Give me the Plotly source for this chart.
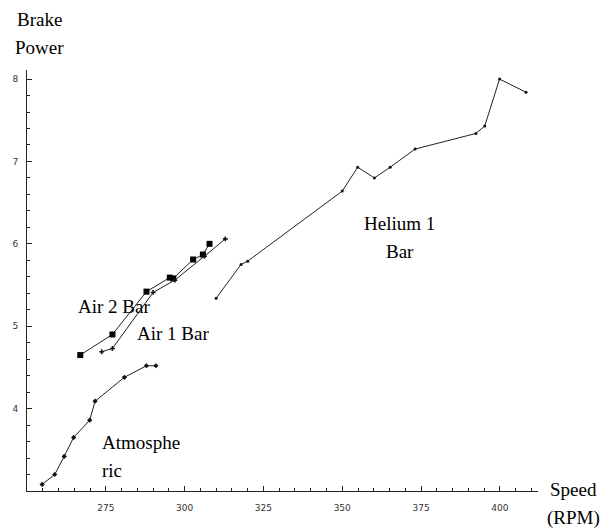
import plotly.graph_objects as go

# ---- data ----
atm_speed = [254.8, 258.8, 261.8, 264.8, 269.9, 271.6, 280.9, 287.9, 290.9]
atm_power = [3.08, 3.20, 3.42, 3.65, 3.86, 4.09, 4.38, 4.52, 4.52]

air2_speed = [266.9, 277.1, 287.9, 295.3, 296.4, 302.7, 305.8, 307.9]
air2_power = [4.65, 4.90, 5.42, 5.59, 5.58, 5.81, 5.87, 6.00]

air1_speed = [273.7, 277.1, 290.0, 296.9, 306.3, 312.9]
air1_power = [4.69, 4.73, 5.41, 5.56, 5.85, 6.06]

he_speed = [310.0, 317.9, 320.0, 350.0, 354.9, 360.2, 365.2, 373.1, 392.4, 395.2, 399.9, 408.3]
he_power = [5.34, 5.75, 5.79, 6.64, 6.93, 6.80, 6.93, 7.15, 7.34, 7.43, 8.00, 7.84]

x_ticks = [275, 300, 325, 350, 375, 400]
y_ticks = [4, 5, 6, 7, 8]

W, H = 613, 531
L, R, T, B = 24, 75, 70, 40
pw, ph = W - L - R, H - T - B

def px(x):
    return (x - L) / pw

def py(y):
    return (H - B - y) / ph

fig = go.Figure()
line = dict(color="#222222", width=1)
fig.add_trace(go.Scatter(x=atm_speed, y=atm_power, mode="lines+markers", line=line,
                         marker=dict(symbol="diamond", size=4, color="#111111")))
fig.add_trace(go.Scatter(x=air2_speed, y=air2_power, mode="lines+markers", line=line,
                         marker=dict(symbol="square", size=6, color="#000000")))
fig.add_trace(go.Scatter(x=air1_speed, y=air1_power, mode="lines+markers", line=line,
                         marker=dict(symbol="cross", size=4, color="#111111")))
fig.add_trace(go.Scatter(x=he_speed, y=he_power, mode="lines+markers", line=line,
                         marker=dict(symbol="circle", size=3, color="#111111")))

tfont = dict(family="DejaVu Sans", size=9, color="#333333")
fig.update_xaxes(range=[250, 412.1], tickmode="array", tickvals=x_ticks,
                 ticks="inside", ticklen=5, tickcolor="#222", showline=True,
                 linecolor="#222", linewidth=1, showgrid=False, zeroline=False,
                 tickfont=tfont, ticklabelstandoff=8,
                 minor=dict(tickmode="linear", tick0=250, dtick=5, ticks="inside",
                            ticklen=3, tickcolor="#222", showgrid=False))
fig.update_yaxes(range=[3, 8.11], tickmode="array", tickvals=y_ticks,
                 ticks="inside", ticklen=5, tickcolor="#222", showline=True,
                 linecolor="#222", linewidth=1, showgrid=False, zeroline=False,
                 tickfont=tfont, ticklabelstandoff=6,
                 minor=dict(tickmode="linear", tick0=3, dtick=0.2, ticks="inside",
                            ticklen=3, tickcolor="#222", showgrid=False))

lfont = dict(family="Liberation Serif, Times New Roman, serif", size=19, color="#000000")
labels = [
    ("Brake", 37, 19, "center"),
    ("Power", 37, 47, "center"),
    ("Speed", 574, 489, "center"),
    ("(RPM)", 574, 518, "center"),
    ("Air 2 Bar", 112, 306, "center"),
    ("Air 1 Bar", 171, 333, "center"),
    ("Atmosphe", 97, 442, "left"),
    ("ric", 97, 470, "left"),
    ("Helium 1", 399, 223, "center"),
    ("Bar", 399, 251, "center"),
]
anns = []
for text, x, y, anchor in labels:
    anns.append(dict(text=text, x=px(x), y=py(y), xref="paper", yref="paper",
                     xanchor=anchor, yanchor="middle", showarrow=False, font=lfont))

fig.update_layout(width=W, height=H, margin=dict(l=L, r=R, t=T, b=B),
                  paper_bgcolor="white", plot_bgcolor="white", showlegend=False,
                  annotations=anns)

fig.write_html("out.html")
